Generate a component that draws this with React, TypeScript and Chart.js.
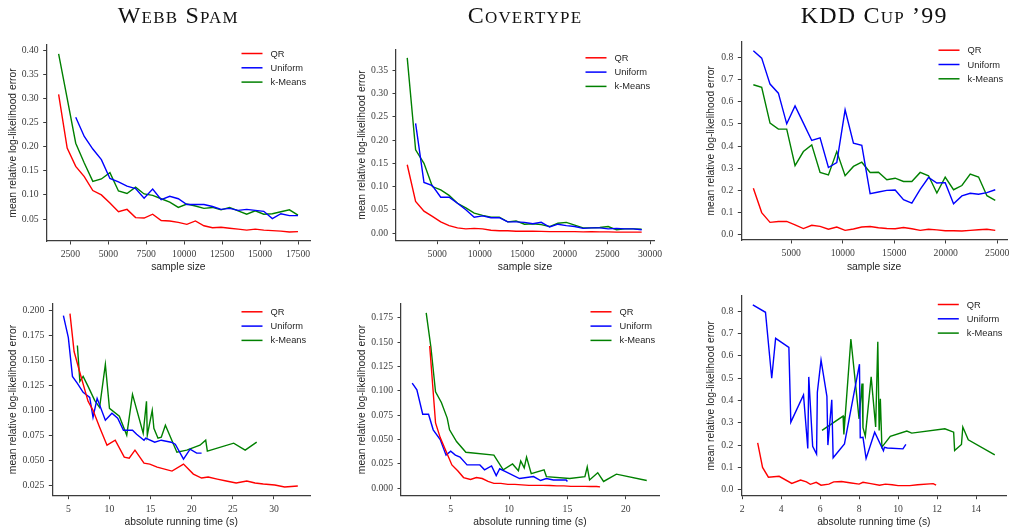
import React, { useEffect, useRef } from 'react';
import { Chart, registerables } from 'chart.js';

Chart.register(...registerables);

// ---------------- DATA ----------------
const seriesLabels = ['QR', 'Uniform', 'k-Means'];
const seriesColors = ['#ff0000', '#0000ff', '#008000'];

// Webb Spam – sample size
const webbSizes = [1726, 2289, 2853, 3416, 3979, 4543, 5106, 5669, 6232, 6796, 7359, 7922, 8486, 9049, 9612, 10176, 10739, 11302, 11865, 12429, 12992, 13555, 14119, 14682, 15245, 15809, 16372, 16935, 17498];
const webbSizesUniform = [2853, 3416, 3979, 4543, 5106, 5669, 6232, 6796, 7359, 7922, 8486, 9049, 9612, 10176, 10739, 11302, 11865, 12429, 12992, 13555, 14119, 14682, 15245, 15809, 16372, 16935, 17498];
const webbQR = [0.308, 0.197, 0.159, 0.138, 0.109, 0.100, 0.083, 0.065, 0.070, 0.053, 0.052, 0.060, 0.047, 0.046, 0.043, 0.039, 0.046, 0.036, 0.032, 0.033, 0.031, 0.029, 0.027, 0.029, 0.027, 0.026, 0.025, 0.023, 0.024];
const webbUniform = [0.261, 0.221, 0.195, 0.173, 0.134, 0.127, 0.118, 0.113, 0.093, 0.112, 0.090, 0.097, 0.092, 0.080, 0.080, 0.080, 0.076, 0.070, 0.072, 0.068, 0.070, 0.068, 0.066, 0.051, 0.061, 0.057, 0.057];
const webbKMeans = [0.392, 0.300, 0.207, 0.166, 0.128, 0.133, 0.146, 0.108, 0.103, 0.116, 0.102, 0.099, 0.092, 0.085, 0.074, 0.081, 0.077, 0.072, 0.074, 0.069, 0.074, 0.067, 0.060, 0.067, 0.060, 0.061, 0.065, 0.069, 0.058];

// Covertype – sample size
const coverSizes = [1470, 2454, 3438, 4422, 5406, 6390, 7374, 8358, 9342, 10326, 11310, 12294, 13278, 14262, 15246, 16230, 17214, 18198, 19182, 20166, 21150, 22134, 23118, 24102, 25086, 26070, 27054, 28038, 29022];
const coverSizesUniform = [2454, 3438, 4422, 5406, 6390, 7374, 8358, 9342, 10326, 11310, 12294, 13278, 14262, 15246, 16230, 17214, 18198, 19182, 20166, 21150, 22134, 23118, 24102, 25086, 26070, 27054, 28038, 29022];
const coverQR = [0.147, 0.068, 0.047, 0.036, 0.024, 0.016, 0.011, 0.009, 0.010, 0.009, 0.006, 0.005, 0.005, 0.004, 0.004, 0.004, 0.0035, 0.003, 0.003, 0.003, 0.003, 0.0025, 0.003, 0.0025, 0.0025, 0.002, 0.002, 0.002, 0.002];
const coverUniform = [0.236, 0.109, 0.102, 0.077, 0.077, 0.064, 0.050, 0.034, 0.037, 0.033, 0.033, 0.024, 0.024, 0.023, 0.020, 0.023, 0.013, 0.019, 0.016, 0.014, 0.010, 0.011, 0.011, 0.009, 0.010, 0.009, 0.009, 0.007];
const coverKMeans = [0.377, 0.179, 0.150, 0.100, 0.093, 0.081, 0.064, 0.054, 0.043, 0.038, 0.034, 0.034, 0.024, 0.026, 0.019, 0.020, 0.018, 0.014, 0.021, 0.023, 0.017, 0.011, 0.011, 0.012, 0.014, 0.007, 0.009, 0.009, 0.008];

// KDD Cup '99 – sample size
const kddSizes = [1320, 2130, 2940, 3750, 4560, 5370, 6180, 6990, 7800, 8610, 9420, 10230, 11040, 11850, 12660, 13470, 14280, 15090, 15900, 16710, 17520, 18330, 19140, 19950, 20760, 21570, 22380, 23190, 24000, 24810];
const kddQR = [0.210, 0.100, 0.056, 0.060, 0.060, 0.045, 0.028, 0.043, 0.038, 0.025, 0.035, 0.020, 0.026, 0.035, 0.037, 0.032, 0.028, 0.027, 0.033, 0.027, 0.020, 0.025, 0.022, 0.018, 0.018, 0.017, 0.020, 0.023, 0.025, 0.020];
const kddUniform = [0.829, 0.796, 0.679, 0.638, 0.500, 0.581, 0.503, 0.425, 0.437, 0.303, 0.325, 0.563, 0.413, 0.403, 0.185, 0.193, 0.200, 0.202, 0.158, 0.143, 0.205, 0.258, 0.233, 0.235, 0.140, 0.175, 0.187, 0.183, 0.190, 0.203];
const kddKMeans = [0.676, 0.664, 0.503, 0.476, 0.476, 0.312, 0.375, 0.405, 0.281, 0.270, 0.375, 0.266, 0.308, 0.327, 0.281, 0.282, 0.248, 0.255, 0.240, 0.240, 0.281, 0.266, 0.188, 0.260, 0.203, 0.222, 0.273, 0.260, 0.176, 0.155];

// Webb Spam – running time
const webbTimeQR = [5.2, 5.7, 6.4, 7.4, 8.0, 8.8, 9.7, 10.7, 11.8, 12.4, 13.1, 14.2, 14.9, 15.8, 17.6, 19.0, 20.2, 21.2, 22.0, 23.1, 24.2, 25.4, 26.7, 27.7, 28.7, 30.1, 31.3, 32.9];
const webbTimeQRErr = [0.197, 0.159, 0.138, 0.109, 0.100, 0.083, 0.065, 0.070, 0.053, 0.052, 0.060, 0.047, 0.046, 0.043, 0.039, 0.046, 0.036, 0.032, 0.033, 0.031, 0.029, 0.027, 0.029, 0.027, 0.026, 0.025, 0.023, 0.024];
const webbTimeUniform = [4.4, 5.0, 5.5, 6.1, 6.8, 7.6, 8.0, 8.5, 9.5, 10.3, 11.0, 11.7, 12.3, 12.8, 13.3, 14.2, 14.4, 15.5, 16.3, 17.5, 18.0, 19.0, 19.8, 20.6, 21.2];
const webbTimeUniformErr = [0.195, 0.173, 0.134, 0.127, 0.118, 0.113, 0.093, 0.112, 0.090, 0.097, 0.092, 0.080, 0.080, 0.080, 0.076, 0.070, 0.072, 0.068, 0.070, 0.068, 0.066, 0.051, 0.061, 0.057, 0.057];
const webbTimeKMeans = [6.1, 6.4, 6.8, 7.4, 8.2, 8.8, 9.5, 10.0, 11.2, 12.1, 12.8, 14.1, 14.5, 14.6, 15.2, 15.4, 15.9, 16.3, 16.8, 18.2, 19.4, 21.0, 21.7, 21.9, 25.1, 26.5, 27.9];
const webbTimeKMeansErr = [0.165, 0.129, 0.134, 0.124, 0.110, 0.103, 0.146, 0.102, 0.094, 0.075, 0.116, 0.077, 0.109, 0.075, 0.100, 0.082, 0.072, 0.073, 0.085, 0.058, 0.060, 0.065, 0.070, 0.059, 0.067, 0.060, 0.068];

// Covertype – running time
const coverTimeQR = [3.2, 3.7, 4.1, 4.6, 5.1, 5.6, 6.1, 6.7, 7.2, 7.7, 8.2, 8.7, 9.3, 9.9, 10.5, 11.1, 11.7, 12.3, 12.9, 13.5, 14.1, 14.7, 15.3, 15.9, 16.5, 17.0, 17.5, 17.8];
const coverTimeQRErr = [0.146, 0.067, 0.052, 0.038, 0.024, 0.018, 0.011, 0.009, 0.011, 0.010, 0.007, 0.005, 0.005, 0.004, 0.004, 0.0035, 0.003, 0.003, 0.003, 0.0028, 0.0025, 0.0025, 0.002, 0.002, 0.002, 0.0018, 0.0018, 0.0015];
const coverTimeUniform = [1.7, 2.1, 2.6, 3.1, 3.5, 4.1, 4.6, 5.0, 5.4, 5.8, 6.4, 7.5, 7.9, 8.5, 8.9, 9.2, 9.7, 10.9, 12.1, 12.7, 13.2, 13.8, 14.9, 15.0];
const coverTimeUniformErr = [0.108, 0.101, 0.076, 0.076, 0.060, 0.050, 0.034, 0.038, 0.034, 0.032, 0.024, 0.024, 0.019, 0.023, 0.013, 0.020, 0.017, 0.010, 0.012, 0.008, 0.010, 0.0085, 0.0085, 0.007];
const coverTimeKMeans = [2.9, 3.3, 3.7, 4.2, 4.7, 4.9, 5.5, 6.3, 8.7, 9.5, 10.3, 10.8, 11.0, 11.3, 11.5, 11.9, 13.0, 13.2, 15.2, 16.5, 16.7, 16.9, 17.6, 18.1, 19.2, 21.8];
const coverTimeKMeansErr = [0.180, 0.145, 0.099, 0.088, 0.072, 0.060, 0.048, 0.037, 0.034, 0.019, 0.025, 0.018, 0.028, 0.021, 0.032, 0.015, 0.019, 0.012, 0.010, 0.012, 0.022, 0.0085, 0.016, 0.007, 0.0145, 0.008];

// KDD Cup '99 – running time
const kddTimeQR = [2.8, 3.05, 3.35, 3.9, 4.55, 5.0, 5.3, 5.5, 5.8, 6.05, 6.45, 6.7, 7.1, 7.6, 8.0, 8.2, 8.6, 9.05, 9.35, 9.7, 10.0, 10.6, 11.0, 11.8, 11.95];
const kddTimeQRErr = [0.210, 0.100, 0.056, 0.060, 0.028, 0.043, 0.035, 0.024, 0.033, 0.020, 0.025, 0.035, 0.037, 0.030, 0.025, 0.033, 0.027, 0.020, 0.025, 0.022, 0.018, 0.018, 0.022, 0.027, 0.020];
const kddTimeUniform = [2.55, 3.2, 3.52, 3.72, 4.4, 4.5, 5.15, 5.37, 5.42, 5.62, 5.82, 5.86, 6.05, 6.35, 6.4, 6.6, 6.67, 7.25, 8.02, 8.06, 8.2, 8.36, 8.8, 9.25, 9.3, 9.45, 10.25, 10.4];
const kddTimeUniformErr = [0.829, 0.796, 0.500, 0.679, 0.638, 0.303, 0.425, 0.185, 0.506, 0.195, 0.160, 0.437, 0.581, 0.419, 0.200, 0.403, 0.143, 0.205, 0.563, 0.233, 0.235, 0.140, 0.258, 0.175, 0.190, 0.187, 0.183, 0.203];
const kddTimeKMeans = [6.1, 7.18, 7.22, 7.58, 8.0, 8.15, 8.2, 8.32, 8.62, 8.85, 8.96, 9.03, 9.09, 9.17, 9.6, 10.45, 10.7, 12.4, 12.85, 12.9, 13.25, 13.32, 13.6, 14.96];
const kddTimeKMeansErr = [0.266, 0.330, 0.248, 0.676, 0.318, 0.476, 0.278, 0.240, 0.506, 0.281, 0.664, 0.266, 0.408, 0.191, 0.239, 0.263, 0.254, 0.273, 0.258, 0.176, 0.203, 0.281, 0.224, 0.156];

// Tick values
const webbSizeTicks = [2500, 5000, 7500, 10000, 12500, 15000, 17500];
const webbErrTicks = [0.05, 0.10, 0.15, 0.20, 0.25, 0.30, 0.35, 0.40];
const coverSizeTicks = [5000, 10000, 15000, 20000, 25000, 30000];
const coverErrTicks = [0.00, 0.05, 0.10, 0.15, 0.20, 0.25, 0.30, 0.35];
const kddSizeTicks = [5000, 10000, 15000, 20000, 25000];
const kddErrTicks = [0.0, 0.1, 0.2, 0.3, 0.4, 0.5, 0.6, 0.7, 0.8];
const webbTimeTicks = [5, 10, 15, 20, 25, 30];
const webbTimeErrTicks = [0.025, 0.050, 0.075, 0.100, 0.125, 0.150, 0.175, 0.200];
const coverTimeTicks = [5, 10, 15, 20];
const coverTimeErrTicks = [0.000, 0.025, 0.050, 0.075, 0.100, 0.125, 0.150, 0.175];
const kddTimeTicks = [2, 4, 6, 8, 10, 12, 14];
const kddTimeErrTicks = [0.0, 0.1, 0.2, 0.3, 0.4, 0.5, 0.6, 0.7, 0.8];

const titles = ['Webb Spam', 'Covertype', 'KDD Cup ’99'];
const yAxisLabel = 'mean relative log-likelihood error';
const xAxisLabelTop = 'sample size';
const xAxisLabelBottom = 'absolute running time (s)';

// ---------------- LAYOUT ----------------
type SeriesDef = { x: number[]; y: number[] };
type PanelDef = {
  cell: [number, number, number, number];
  box: [number, number, number, number];
  xr: [number, number];
  yr: [number, number];
  xTicks: number[];
  yTicks: number[];
  xDec: number;
  yDec: number;
  xLabel: string;
  yTitleX: number;
  xTitleY: number;
  series: SeriesDef[];
};

const ROW1: [number, number] = [0, 285];
const ROW2: [number, number] = [285, 244];
const COLS: [number, number][] = [[0, 337], [337, 337], [674, 338]];

const panels: PanelDef[] = [
  {
    cell: [COLS[0][0], ROW1[0], COLS[0][1], ROW1[1]], box: [46.7, 45, 310, 241],
    xr: [940, 18290], yr: [0.0045, 0.4105], xTicks: webbSizeTicks, yTicks: webbErrTicks, xDec: 0, yDec: 2,
    xLabel: xAxisLabelTop, yTitleX: 13.3, xTitleY: 267,
    series: [{ x: webbSizes, y: webbQR }, { x: webbSizesUniform, y: webbUniform }, { x: webbSizes, y: webbKMeans }],
  },
  {
    cell: [COLS[1][0], ROW1[0], COLS[1][1], ROW1[1]], box: [396, 49.3, 654, 240.7],
    xr: [150, 30470], yr: [-0.0165, 0.3955], xTicks: coverSizeTicks, yTicks: coverErrTicks, xDec: 0, yDec: 2,
    xLabel: xAxisLabelTop, yTitleX: 361.7, xTitleY: 267,
    series: [{ x: coverSizes, y: coverQR }, { x: coverSizesUniform, y: coverUniform }, { x: coverSizes, y: coverKMeans }],
  },
  {
    cell: [COLS[2][0], ROW1[0], COLS[2][1], ROW1[1]], box: [741.3, 41.7, 1007, 240],
    xr: [150, 25950], yr: [-0.0235, 0.870], xTicks: kddSizeTicks, yTicks: kddErrTicks, xDec: 0, yDec: 1,
    xLabel: xAxisLabelTop, yTitleX: 711, xTitleY: 267,
    series: [{ x: kddSizes, y: kddQR }, { x: kddSizes, y: kddUniform }, { x: kddSizes, y: kddKMeans }],
  },
  {
    cell: [COLS[0][0], ROW2[0], COLS[0][1], ROW2[1]], box: [52.3, 303.3, 310, 495.7],
    xr: [3.05, 34.38], yr: [0.0143, 0.2074], xTicks: webbTimeTicks, yTicks: webbTimeErrTicks, xDec: 0, yDec: 3,
    xLabel: xAxisLabelBottom, yTitleX: 13.3, xTitleY: 521.7,
    series: [{ x: webbTimeQR, y: webbTimeQRErr }, { x: webbTimeUniform, y: webbTimeUniformErr }, { x: webbTimeKMeans, y: webbTimeKMeansErr }],
  },
  {
    cell: [COLS[1][0], ROW2[0], COLS[1][1], ROW2[1]], box: [401, 303.3, 659, 495.7],
    xr: [0.74, 22.85], yr: [-0.0076, 0.1898], xTicks: coverTimeTicks, yTicks: coverTimeErrTicks, xDec: 0, yDec: 3,
    xLabel: xAxisLabelBottom, yTitleX: 361.7, xTitleY: 521.7,
    series: [{ x: coverTimeQR, y: coverTimeQRErr }, { x: coverTimeUniform, y: coverTimeUniformErr }, { x: coverTimeKMeans, y: coverTimeKMeansErr }],
  },
  {
    cell: [COLS[2][0], ROW2[0], COLS[2][1], ROW2[1]], box: [741.3, 296, 1006.3, 495.7],
    xr: [1.96, 15.55], yr: [-0.027, 0.869], xTicks: kddTimeTicks, yTicks: kddTimeErrTicks, xDec: 0, yDec: 1,
    xLabel: xAxisLabelBottom, yTitleX: 711, xTitleY: 521.7,
    series: [{ x: kddTimeQR, y: kddTimeQRErr }, { x: kddTimeUniform, y: kddTimeUniformErr }, { x: kddTimeKMeans, y: kddTimeKMeansErr }],
  },
];

const SPINE = '#3c3c3c';
const TEXT = '#262626';
const TICK_TEXT = '#3a3a3a';
const SANS = '"Liberation Sans", Arial, sans-serif';
const SERIF = '"Liberation Serif", "Times New Roman", serif';

const legendPlugin = {
  id: 'mplLegend',
  afterDatasetsDraw(chart: any) {
    const { ctx, chartArea } = chart;
    const x0 = chartArea.right - 68.5;
    const y0 = chartArea.top + 8.5;
    chart.data.datasets.forEach((ds: any, i: number) => {
      const y = y0 + i * 14.3;
      ctx.save();
      ctx.strokeStyle = ds.borderColor;
      ctx.lineWidth = 1.5;
      ctx.beginPath();
      ctx.moveTo(x0, y);
      ctx.lineTo(x0 + 21, y);
      ctx.stroke();
      ctx.fillStyle = TEXT;
      ctx.font = `9.3px ${SANS}`;
      ctx.textBaseline = 'middle';
      ctx.textAlign = 'left';
      ctx.fillText(ds.label, x0 + 29, y + 0.5);
      ctx.restore();
    });
  },
};

function PanelChart({ p }: { p: PanelDef }) {
  const ref = useRef<HTMLCanvasElement>(null);
  useEffect(() => {
    if (!ref.current) return;
    const [cx, cy, cw, ch] = p.cell;
    const [L, T, R, B] = p.box;
    const titleFont = 10.3;
    const lh = titleFont * 1.2;
    const chart = new Chart(ref.current, {
      type: 'line',
      data: {
        datasets: p.series.map((s, i) => ({
          label: seriesLabels[i],
          data: s.x.map((xv, j) => ({ x: xv, y: s.y[j] })),
          borderColor: seriesColors[i],
          backgroundColor: seriesColors[i],
          borderWidth: 1.4,
          pointRadius: 0,
          tension: 0,
          fill: false,
        })),
      },
      options: {
        responsive: false,
        animation: false,
        events: [],
        layout: { padding: { left: 0, top: T - cy, right: cx + cw - R, bottom: 0 } },
        plugins: { legend: { display: false }, tooltip: { enabled: false }, title: { display: false } },
        scales: {
          x: {
            type: 'linear',
            min: p.xr[0],
            max: p.xr[1],
            afterBuildTicks: (ax: any) => { ax.ticks = p.xTicks.map((v) => ({ value: v })); },
            afterFit: (sc: any) => { sc.height = cy + ch - B; sc.paddingLeft = 0; sc.paddingRight = 0; },
            grid: { display: true, drawOnChartArea: false, drawTicks: true, tickLength: 3.5, color: SPINE, lineWidth: 1 },
            border: { display: true, color: SPINE, width: 1.25 },
            ticks: {
              autoSkip: false, maxRotation: 0, minRotation: 0, padding: 4, color: TICK_TEXT,
              font: { family: SERIF, size: 9.7 },
              callback: (v: any) => Number(v).toFixed(p.xDec),
            },
            title: {
              display: true, text: p.xLabel, color: TEXT, font: { family: SANS, size: titleFont },
              padding: { top: 0, bottom: cy + ch - p.xTitleY - lh / 2 },
            },
          },
          y: {
            type: 'linear',
            min: p.yr[0],
            max: p.yr[1],
            afterBuildTicks: (ax: any) => { ax.ticks = p.yTicks.map((v) => ({ value: v })); },
            afterFit: (sc: any) => { sc.width = L - cx; sc.paddingTop = 0; sc.paddingBottom = 0; },
            grid: { display: true, drawOnChartArea: false, drawTicks: true, tickLength: 3.5, color: SPINE, lineWidth: 1 },
            border: { display: true, color: SPINE, width: 1.25 },
            ticks: {
              autoSkip: false, padding: 4.5, color: TICK_TEXT,
              font: { family: SERIF, size: 9.7 },
              callback: (v: any) => Number(v).toFixed(p.yDec),
            },
            title: {
              display: true, text: yAxisLabel, color: TEXT, font: { family: SANS, size: titleFont },
              padding: { top: p.yTitleX - cx - lh / 2, bottom: 0 },
            },
          },
        },
      },
      plugins: [legendPlugin],
    } as any);
    return () => chart.destroy();
  }, [p]);
  const [cx, cy, cw, ch] = p.cell;
  return (
    <canvas
      ref={ref}
      width={cw}
      height={ch}
      style={{ position: 'absolute', left: cx, top: cy, width: cw, height: ch }}
    />
  );
}

export default function App() {
  return (
    <div style={{ position: 'absolute', left: 0, top: 0, width: 1012, height: 529, background: '#ffffff', overflow: 'hidden' }}>
      {panels.map((p, i) => (
        <PanelChart key={i} p={p} />
      ))}
      {titles.map((t, i) => {
        const b = panels[i].box;
        const c = (b[0] + b[2]) / 2;
        return (
          <div
            key={t}
            style={{
              position: 'absolute', left: c - 120, top: 3.2, width: 240, textAlign: 'center',
              fontFamily: SERIF, fontSize: 24, lineHeight: '24px', fontVariant: 'small-caps',
              letterSpacing: '1.2px', color: '#111', whiteSpace: 'nowrap',
            }}
          >
            {t}
          </div>
        );
      })}
    </div>
  );
}
